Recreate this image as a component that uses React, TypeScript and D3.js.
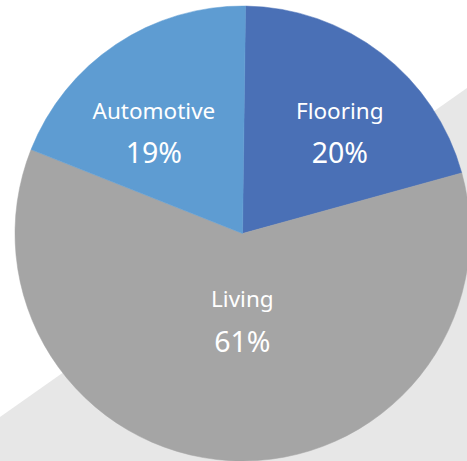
import React from "react";
import * as d3 from "d3";

const categories = ["Flooring", "Living", "Automotive"];
const values = [20.5, 60.3, 19.2];
const percentLabels = ["20%", "61%", "19%"];
const colors = ["#4A70B6", "#A5A5A5", "#5E9CD2"];

const W = 467;
const H = 461;

export default function App() {
  const cx = 242.5;
  const cy = 233.5;
  const R = 227.5;
  const start = (0.76 * Math.PI) / 180;

  const pie = d3
    .pie<number>()
    .sort(null)
    .value((d) => d)
    .startAngle(start)
    .endAngle(start + 2 * Math.PI);
  const arcs = pie(values);
  const arcGen = d3.arc<d3.PieArcDatum<number>>().innerRadius(0).outerRadius(R);

  const labelPos = (d: d3.PieArcDatum<number>) => {
    const big = d.endAngle - d.startAngle > Math.PI;
    const r = big ? R * 0.256 : R * 0.7;
    const [x, y] = d3.arc<d3.PieArcDatum<number>>().innerRadius(r).outerRadius(r).centroid(d);
    return big ? [x + 3, y] : [x, -R * 0.573];
  };

  const bgLine = d3.line()([
    [0, 417],
    [W, 88],
    [W, H],
    [0, H],
  ]);

  return (
    <svg
      width={W}
      height={H}
      style={{ position: "absolute", left: 0, top: 0, background: "#fff" }}
      fontFamily="'Noto Sans', 'Open Sans', sans-serif"
    >
      <path d={bgLine + "Z"} fill="#E7E7E7" />
      <g transform={`translate(${cx},${cy})`}>
        {arcs.map((a, i) => (
          <path key={categories[i]} d={arcGen(a) || ""} fill={colors[i]} stroke={colors[i]} strokeWidth={0.5} />
        ))}
        {arcs.map((a, i) => {
          const [x, y] = labelPos(a);
          return (
            <g key={"l" + i} fill="#fff" textAnchor="middle">
              <text x={x} y={y + 15.5} fontSize={22.5}>
                {categories[i]}
              </text>
              <text x={x} y={y + 60} fontSize={28.5}>
                {percentLabels[i]}
              </text>
            </g>
          );
        })}
      </g>
    </svg>
  );
}
